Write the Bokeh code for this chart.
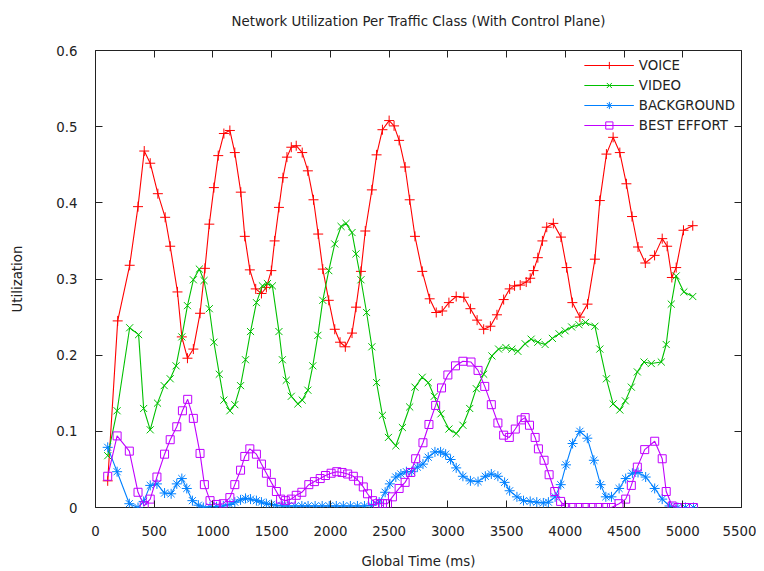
from bokeh.plotting import figure
from bokeh.models import (LinearAxis, FixedTicker, CustomJSTickFormatter,
                          Legend, LegendItem, Range1d)
from bokeh.embed import file_html
from bokeh.resources import INLINE

# ---------------- data ----------------
voice_t = [104,189,291,362,415,466,531,593,636,698,735,783,833,890,932,969,1008,1045,1093,1144,
           1186,1237,1271,1314,1364,1413,1455,1497,1525,1562,1596,1630,1667,1709,1760,1808,1856,1896,1935,1986,
           2037,2082,2127,2184,2218,2260,2297,2353,2393,2443,2500,2542,2585,2636,2675,2720,2782,2845,2901,2952,
           3009,3071,3136,3192,3249,3305,3362,3418,3475,3526,3568,3616,3667,3701,3729,3766,3805,3842,3898,3963,
           4011,4060,4124,4189,4252,4294,4350,4407,4464,4520,4568,4619,4681,4760,4825,4867,4907,4944,5006,5085]
voice_u = [0.035,0.245,0.318,0.395,0.468,0.452,0.412,0.381,0.343,0.283,0.224,0.196,0.208,0.255,0.314,0.372,0.420,0.462,0.491,0.495,
           0.466,0.414,0.356,0.312,0.287,0.281,0.289,0.311,0.350,0.394,0.433,0.460,0.473,0.475,0.466,0.442,0.404,0.359,0.313,0.272,
           0.234,0.217,0.211,0.229,0.263,0.310,0.363,0.417,0.463,0.496,0.508,0.501,0.482,0.447,0.404,0.356,0.310,0.274,0.256,0.258,
           0.269,0.277,0.276,0.261,0.246,0.234,0.238,0.253,0.273,0.287,0.291,0.292,0.296,0.301,0.311,0.328,0.350,0.368,0.373,0.355,
           0.315,0.269,0.250,0.267,0.326,0.403,0.464,0.486,0.466,0.425,0.382,0.342,0.321,0.331,0.353,0.343,0.302,0.315,0.364,0.370]

video_t = [104,184,291,367,410,466,528,585,636,686,735,783,833,884,924,969,1008,1054,1093,1144,
           1186,1235,1277,1320,1370,1421,1464,1506,1562,1591,1624,1667,1723,1760,1808,1850,1893,1935,1986,2037,
           2091,2133,2184,2218,2260,2308,2353,2393,2443,2494,2557,2613,2675,2720,2782,2833,2884,2941,3009,3071,
           3128,3186,3242,3305,3375,3432,3494,3545,3596,3658,3709,3766,3828,3890,3947,3998,4054,4116,4172,4252,
           4294,4350,4407,4464,4511,4562,4613,4670,4732,4817,4859,4902,4944,5009,5085]
video_u = [0.068,0.127,0.236,0.227,0.130,0.102,0.137,0.160,0.169,0.186,0.224,0.265,0.299,0.313,0.298,0.261,0.217,0.175,0.141,0.127,
           0.135,0.160,0.194,0.231,0.269,0.291,0.294,0.291,0.231,0.194,0.167,0.146,0.136,0.141,0.154,0.186,0.226,0.272,0.311,0.346,
           0.369,0.373,0.361,0.333,0.299,0.256,0.211,0.164,0.121,0.092,0.081,0.105,0.132,0.158,0.171,0.164,0.146,0.123,0.103,0.097,
           0.108,0.130,0.156,0.175,0.199,0.208,0.210,0.208,0.205,0.215,0.221,0.217,0.214,0.222,0.228,0.232,0.237,0.240,0.243,0.238,
           0.208,0.169,0.136,0.128,0.140,0.158,0.178,0.191,0.189,0.191,0.214,0.267,0.304,0.283,0.277]

background_t = [104,184,288,362,410,466,523,588,644,692,735,777,825,876,918,975,1031,1088,1144,1186,
                1235,1277,1320,1370,1413,1455,1497,1540,1590,1640,1700,1757,1810,1870,1930,1990,2050,2110,2170,2230,
                2290,2350,2415,2466,2506,2557,2600,2647,2692,2740,2788,2833,2890,2938,2981,3023,3071,3128,3192,3257,
                3319,3370,3426,3483,3526,3588,3644,3701,3757,3813,3856,3913,3961,4006,4062,4124,4187,4243,4300,4345,
                4393,4458,4514,4571,4619,4684,4761,4825,4887,4958,5023,5091]
background_u = [0.079,0.047,0.005,0.0,0.008,0.029,0.031,0.019,0.018,0.031,0.038,0.025,0.009,0.003,0.0,0.001,0.001,0.002,0.004,0.007,
                0.010,0.012,0.011,0.009,0.007,0.005,0.004,0.003,0.002,0.002,0.002,0.002,0.002,0.002,0.002,0.002,0.002,0.002,0.002,0.002,
                0.002,0.003,0.007,0.020,0.031,0.040,0.044,0.047,0.047,0.053,0.057,0.066,0.073,0.073,0.070,0.063,0.052,0.041,0.035,0.034,
                0.041,0.044,0.041,0.033,0.022,0.014,0.009,0.008,0.007,0.006,0.007,0.014,0.030,0.056,0.084,0.100,0.091,0.062,0.030,0.014,
                0.014,0.025,0.038,0.045,0.046,0.040,0.025,0.011,0.002,0.0,0.0,0.0]

besteffort_t = [104,184,288,362,415,466,523,588,636,692,740,785,833,890,927,975,1031,1088,1144,1186,
                1235,1271,1314,1370,1413,1455,1497,1540,1576,1616,1667,1709,1757,1816,1864,1913,1958,2006,2054,2099,
                2147,2195,2240,2280,2316,2359,2401,2443,2486,2528,2585,2636,2684,2726,2788,2839,2896,2946,3000,3065,
                3128,3197,3257,3314,3370,3426,3475,3523,3574,3625,3658,3695,3743,3771,3819,3862,3910,3960,4003,4060,
                4116,4172,4229,4285,4342,4393,4457,4514,4562,4613,4676,4761,4825,4859,4910,4958,5023,5091]
besteffort_u = [0.041,0.094,0.074,0.020,0.002,0.011,0.040,0.070,0.089,0.106,0.127,0.142,0.117,0.071,0.030,0.009,0.004,0.005,0.013,0.030,
                0.049,0.067,0.077,0.070,0.057,0.045,0.033,0.021,0.011,0.009,0.011,0.016,0.020,0.030,0.034,0.038,0.042,0.045,0.047,0.046,
                0.044,0.041,0.035,0.027,0.018,0.009,0.005,0.005,0.005,0.014,0.025,0.033,0.046,0.064,0.085,0.109,0.134,0.157,0.174,0.186,
                0.192,0.191,0.180,0.159,0.135,0.111,0.095,0.092,0.103,0.115,0.118,0.108,0.092,0.077,0.062,0.043,0.021,0.008,0.0,0.0,
                0.0,0.0,0.0,0.0,0.0,0.0,0.005,0.011,0.029,0.053,0.076,0.087,0.064,0.021,0.002,0.0,0.0,0.0]

series_names = ["VOICE", "VIDEO", "BACKGROUND", "BEST EFFORT"]
x_ticks = [0, 500, 1000, 1500, 2000, 2500, 3000, 3500, 4000, 4500, 5000, 5500]
y_ticks = [0, 0.1, 0.2, 0.3, 0.4, 0.5, 0.6]
title_text = "Network Utilization Per Traffic Class (With Control Plane)"

FONT = "DejaVu Sans"
INK = "#222222"

p = figure(width=756, height=571, output_backend="svg", toolbar_location=None,
           x_range=Range1d(0, 5500), y_range=Range1d(0, 0.6),
           x_axis_label="Global Time (ms)", y_axis_label="Utilization",
           min_border_left=95, min_border_right=15, min_border_top=50, min_border_bottom=64)
p.background_fill_color = "white"
p.border_fill_color = "white"
p.grid.visible = False
p.outline_line_color = INK
p.outline_line_width = 1

fmt = CustomJSTickFormatter(code="var s = tick.toFixed(1); return s == '0.0' ? '0' : s;")

for ax in p.xaxis:
    ax.ticker = FixedTicker(ticks=x_ticks)
for ax in p.yaxis:
    ax.ticker = FixedTicker(ticks=y_ticks)
    ax.formatter = fmt

for ax in list(p.xaxis) + list(p.yaxis):
    ax.axis_line_color = None
    ax.major_tick_in = 7
    ax.major_tick_out = 0
    ax.major_tick_line_color = INK
    ax.minor_tick_line_color = None
    ax.major_label_text_font = FONT
    ax.major_label_text_font_size = "10pt"
    ax.major_label_text_color = INK
    ax.axis_label_text_font = FONT
    ax.axis_label_text_font_size = "10pt"
    ax.axis_label_text_font_style = "normal"
    ax.axis_label_text_color = INK

p.xaxis.major_label_standoff = 18
p.xaxis.axis_label_standoff = 15
p.yaxis.major_label_standoff = 18
p.yaxis.axis_label_standoff = 28

# mirrored ticks on top (carrying the chart title) and right, gnuplot style
top = LinearAxis(ticker=FixedTicker(ticks=x_ticks), axis_line_color=None,
                 major_tick_in=7, major_tick_out=0, minor_tick_line_color=None,
                 major_tick_line_color=INK, major_label_text_color=None,
                 major_label_text_font_size="1px", major_label_standoff=0,
                 axis_label=title_text, axis_label_text_font=FONT,
                 axis_label_text_font_size="10pt", axis_label_text_font_style="normal",
                 axis_label_text_color=INK, axis_label_standoff=22)
right = LinearAxis(ticker=FixedTicker(ticks=y_ticks), axis_line_color=None,
                   major_tick_in=7, major_tick_out=0, minor_tick_line_color=None,
                   major_tick_line_color=INK, major_label_text_color=None,
                   major_label_text_font_size="1px", major_label_standoff=0)
p.add_layout(top, "above")
p.add_layout(right, "right")

colors = ["#ff0000", "#00c000", "#0080ff", "#c000ff"]
markers = ["cross", "x", "asterisk", "square"]
data = [(voice_t, voice_u), (video_t, video_u), (background_t, background_u), (besteffort_t, besteffort_u)]

items = []
for name, (t, u), c, m in zip(series_names, data, colors, markers):
    ln = p.line(t, u, line_color=c, line_width=1.1)
    sc = p.scatter(t, u, marker=m, size=10 if m != "square" else 8,
                   line_color=c, fill_color=None, line_width=1)
    items.append(LegendItem(label=name, renderers=[ln, sc]))

legend = Legend(items=items, location="top_right")
legend.border_line_color = None
legend.background_fill_alpha = 0
legend.label_text_font = FONT
legend.label_text_font_size = "10pt"
legend.label_text_color = INK
legend.glyph_width = 50
legend.spacing = 2
legend.label_height = 18
legend.glyph_height = 18
legend.margin = 6
legend.padding = 6
p.add_layout(legend)

open("out.html", "w").write(file_html(p, INLINE))
